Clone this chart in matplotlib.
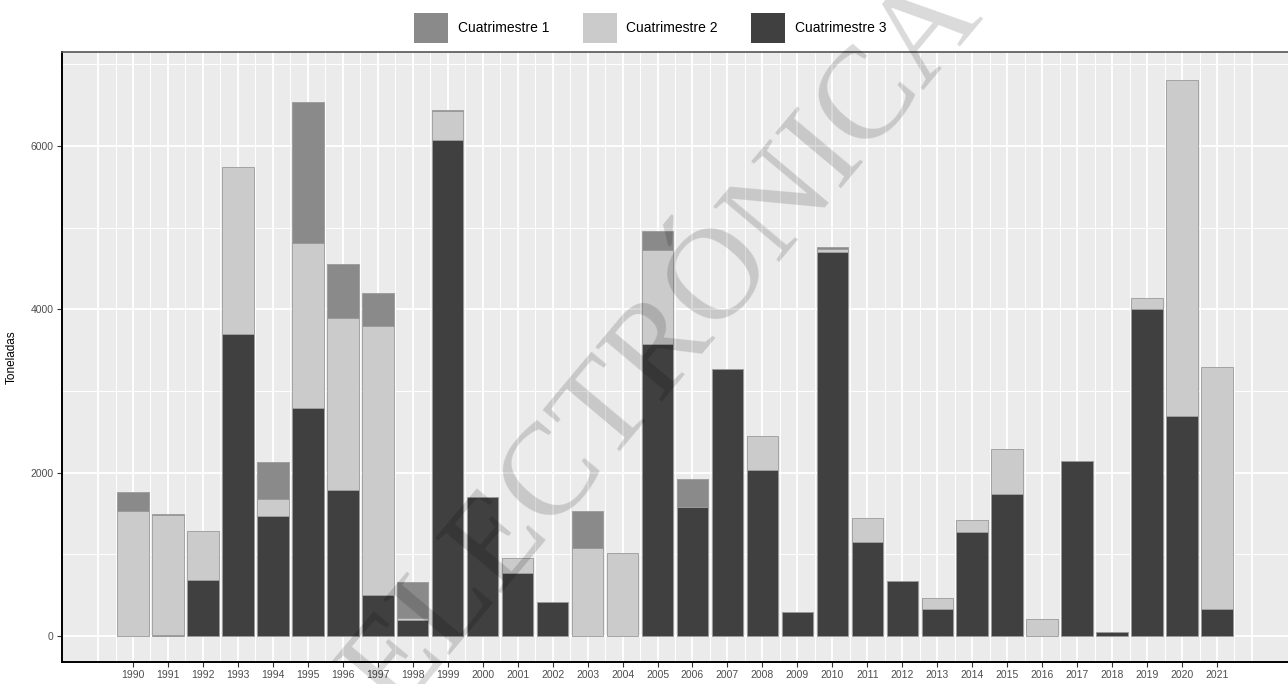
import numpy as np
import matplotlib; matplotlib.use('Agg')
import matplotlib.pyplot as plt
from matplotlib.patches import Patch

years = list(range(1990, 2022))
# toneladas por cuatrimestre
c3 = [0, 15, 680, 3700, 1465, 2795, 1785, 505, 195, 6075, 1700, 770, 420, 0, 0, 3570,
      1585, 3265, 2035, 300, 4700, 1150, 675, 330, 1270, 1740, 0, 2140, 50, 4005, 2690, 325]
c2 = [1535, 1470, 600, 2040, 210, 2020, 2110, 3285, 20, 350, 0, 190, 0, 1080, 1020, 1155,
      0, 0, 410, 0, 40, 300, 0, 130, 155, 550, 205, 0, 0, 135, 4120, 2965]
c1 = [225, 10, 0, 0, 450, 1720, 660, 410, 450, 20, 0, 0, 0, 455, 0, 235,
      335, 0, 0, 0, 20, 0, 0, 0, 0, 0, 0, 0, 0, 0, 0, 0]
labels = ['Cuatrimestre 1', 'Cuatrimestre 2', 'Cuatrimestre 3']
colors = ['#8a8a8a', '#cbcbcb', '#404040']

plt.rcParams['font.family'] = ['Liberation Sans', 'DejaVu Sans']
fig = plt.figure(figsize=(12.88, 6.84), dpi=100)
ax = fig.add_axes([62/1288, 22/684, 1 - 62/1288, 610/684])
ax.set_facecolor('#ebebeb')

x = np.array(years)
c1, c2, c3 = np.array(c1), np.array(c2), np.array(c3)
for vals, bot, col in [(c3, 0, colors[2]), (c2, c3, colors[1]), (c1, c3 + c2, colors[0])]:
    lw = np.where(vals > 0, 0.6, 0)
    ax.bar(x, vals, width=0.9, bottom=bot, color=col, edgecolor='#9a9a9a', linewidth=lw, zorder=3)

ax.set_xlim(1987.97, 2023.03)
ax.set_ylim(-318, 7151)
ax.set_xticks(years)
ax.set_xticks(np.arange(1989.5, 2022, 1.0), minor=True)
ax.set_yticks([0, 2000, 4000, 6000])
ax.set_yticks([1000, 3000, 5000, 7000], minor=True)
ax.grid(which='major', color='white', lw=1.3, zorder=0)
ax.grid(which='minor', color='white', lw=0.7, zorder=0)
for v in (1989, 2022):
    ax.axvline(v, color='white', lw=1.3, zorder=0)
ax.tick_params(which='minor', length=0)
ax.tick_params(which='major', length=3.5, width=0.8, color='#333333', labelcolor='#4d4d4d', labelsize=7.5, pad=2.5)
ax.set_ylabel('Toneladas', fontsize=8.5, labelpad=9)

ax.spines['right'].set_visible(False)
ax.spines['top'].set_color('#555555')
ax.spines['top'].set_linewidth(1.2)
for s in ('left', 'bottom'):
    ax.spines[s].set_color('black')
    ax.spines[s].set_linewidth(1.4)

handles = [Patch(facecolor=c, edgecolor='none') for c in colors]
fig.legend(handles, labels, loc='center', bbox_to_anchor=(0.505, 1 - 28/684), ncol=3, frameon=False,
           fontsize=10, handlelength=2.45, handleheight=3.0, handletextpad=0.7, columnspacing=2.4)

# marca de agua
fig.text(665/1288, 1 - 345/684, 'ELECTRÓNICA', rotation=50, ha='center', va='center',
         fontsize=95, family='Liberation Serif', color='black', alpha=0.15, zorder=10)

fig.savefig('out.png', dpi=100)
